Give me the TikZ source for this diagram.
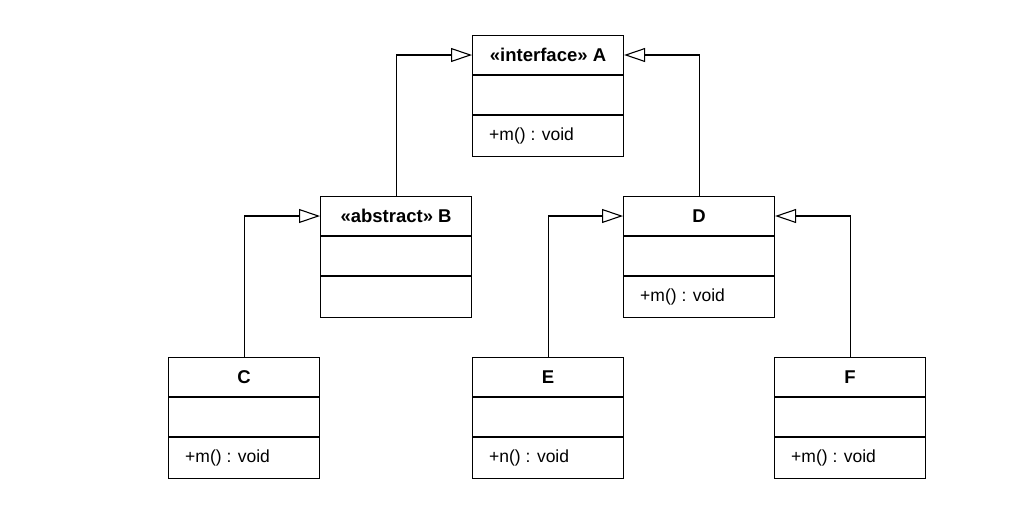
\documentclass[tikz,border=0pt]{standalone}
\usepackage{fontspec}
\setmainfont{Liberation Sans}
\usetikzlibrary{arrows.meta}
\tikzset{
  umlbox/.style={draw, line width=1.1pt, minimum width=151pt, minimum height=121pt, anchor=north west, inner sep=0pt},
  umltitle/.style={font=\fontsize{18.5}{21}\selectfont\bfseries, inner sep=2pt},
  member/.style={font=\fontsize{17.5}{20}\selectfont, anchor=west, inner sep=2pt},
  divider/.style={line width=1.1pt},
  gen/.style={line width=1.1pt, -{Triangle[open, length=21pt, width=14pt, fill=white]}}
}
\newcommand{\umlclass}[4]{%
  \node[umlbox] (#1) at (#2,#3) {};
  \node[umltitle] (#1h) at ([yshift=-20pt]#1.north) {#4};
  \draw[divider] ([yshift=-40pt]#1.north west) -- ([yshift=-40pt]#1.north east);
  \draw[divider] ([yshift=-80pt]#1.north west) -- ([yshift=-80pt]#1.north east);
}
\begin{document}
\begin{tikzpicture}[x=1pt,y=-1pt]
  \useasboundingbox (0,0) rectangle (1024,528);
  \umlclass{A}{472}{35}{«interface» A}
  \umlclass{B}{320}{196}{«abstract» B}
  \umlclass{D}{623}{196}{D}
  \umlclass{C}{168}{357}{C}
  \umlclass{E}{472}{357}{E}
  \umlclass{F}{774}{357}{F}
  \node[member] (Am) at ([xshift=15pt,yshift=-101pt]A.north west) {+m() : void};
  \node[member] (Dm) at ([xshift=15pt,yshift=-101pt]D.north west) {+m() : void};
  \node[member] (Cm) at ([xshift=15pt,yshift=-101pt]C.north west) {+m() : void};
  \node[member] (Em) at ([xshift=15pt,yshift=-101pt]E.north west) {+n() : void};
  \node[member] (Fm) at ([xshift=15pt,yshift=-101pt]F.north west) {+m() : void};
  \draw[gen] (B.north) |- (A.west |- Ah);
  \draw[gen] (D.north) |- (A.east |- Ah);
  \draw[gen] (C.north) |- (B.west |- Bh);
  \draw[gen] (E.north) |- (D.west |- Dh);
  \draw[gen] (F.north) |- (D.east |- Dh);
\end{tikzpicture}
\end{document}
